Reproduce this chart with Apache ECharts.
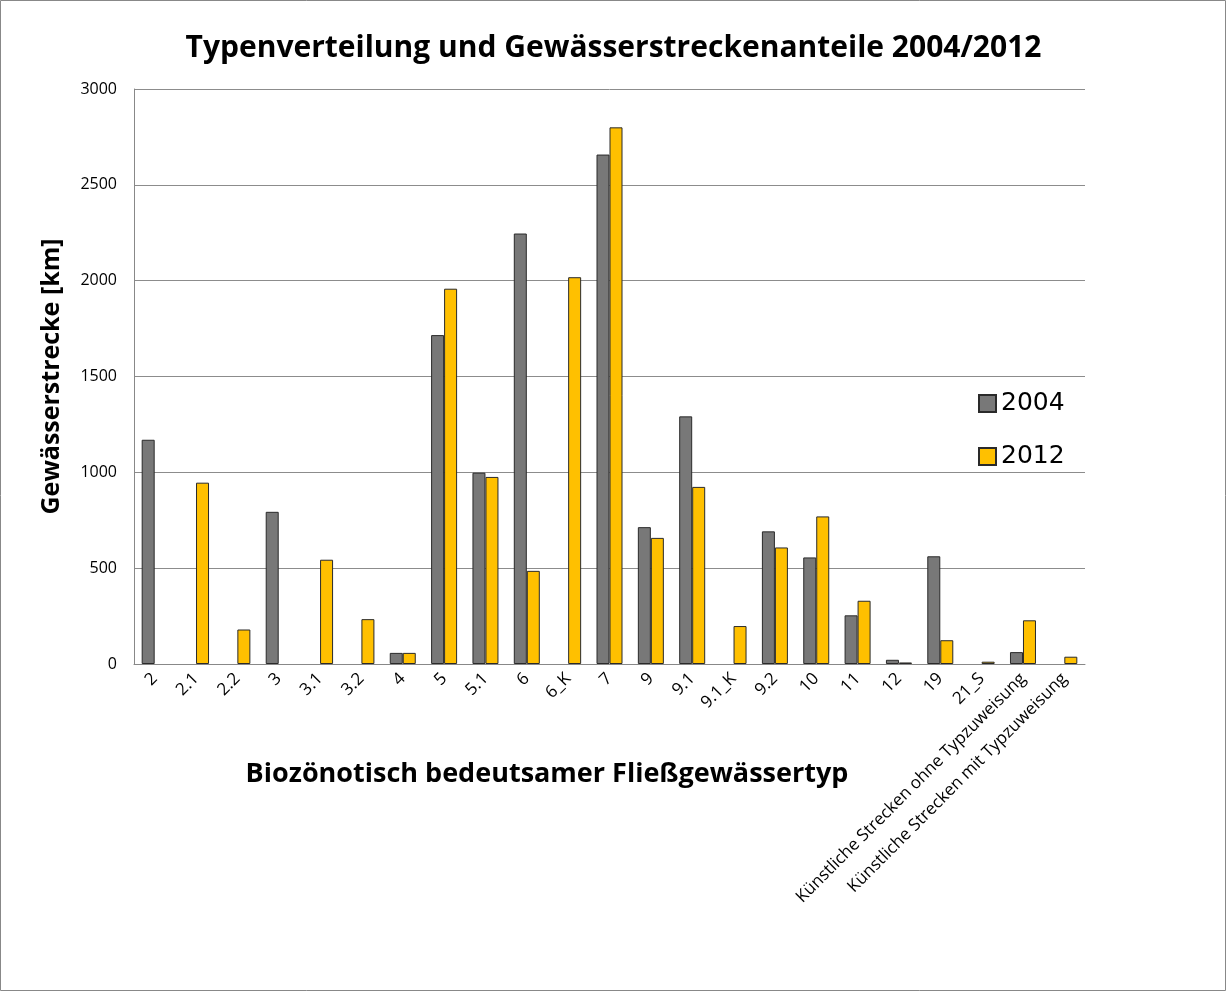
<!DOCTYPE html>
<html>
<head>
<meta charset="utf-8">
<script src="https://cdn.jsdelivr.net/npm/echarts@6/dist/echarts.min.js"></script>
<style>html,body{margin:0;padding:0;background:#fff}#c{width:1227px;height:992px}</style>
</head>
<body>
<div id="c"></div>
<script>
const categories = ['2','2.1','2.2','3','3.1','3.2','4','5','5.1','6','6_K','7','9','9.1','9.1_K','9.2','10','11','12','19','21_S','Künstliche Strecken ohne Typzuweisung','Künstliche Strecken mit Typzuweisung'];
const values2004 = [1170, null, null, 794, null, null, 58, 1716, 998, 2246, null, 2658, 714, 1292, null, 692, 556, 254, 22, 562, null, 62, null];
const values2012 = [null, 946, 180, null, 544, 234, 58, 1958, 976, 486, 2018, 2800, 658, 924, 198, 608, 770, 330, 8, 124, 12, 228, 38];
const yTicks = {min: 0, max: 3000, interval: 500};

const FONT = '"Open Sans", "Noto Sans", sans-serif';
const chart = echarts.init(document.getElementById('c'));
chart.setOption({
  animation: false,
  backgroundColor: '#fff',
  title: [
    {text: 'Typenverteilung und Gewässerstreckenanteile 2004/2012', left: 'center', top: 28,
     textStyle: {fontFamily: FONT, fontSize: 30, fontWeight: 'bold', color: '#000'}},
    {text: 'Biozönotisch bedeutsamer Fließgewässertyp', left: 542, top: 756, textAlign: 'center',
     textStyle: {fontFamily: FONT, fontSize: 27, fontWeight: 'bold', color: '#000'}}
  ],
  graphic: [{type: 'rect', shape: {x: 0.5, y: 0.5, width: 1225, height: 990}, style: {fill: 'none', stroke: '#888', lineWidth: 1}, silent: true}],
  legend: {
    orient: 'vertical', left: 978, top: 391, padding: 0, itemWidth: 17, itemHeight: 17, itemGap: 28,
    textStyle: {fontFamily: '"DejaVu Sans", sans-serif', fontSize: 25, color: '#000'},
    data: [{name: '2004', icon: 'rect'}, {name: '2012', icon: 'rect'}]
  },
  grid: {left: 134, right: 142, top: 89, bottom: 328, containLabel: false},
  xAxis: {
    type: 'category', data: categories,
    axisLine: {lineStyle: {color: '#888'}},
    axisTick: {show: false},
    axisLabel: {rotate: 45, interval: 0, fontFamily: FONT, fontSize: 17, color: '#000', margin: 12}
  },
  yAxis: {
    type: 'value', min: yTicks.min, max: yTicks.max, interval: yTicks.interval,
    name: 'Gewässerstrecke [km]', nameLocation: 'middle', nameGap: 70,
    nameTextStyle: {fontFamily: FONT, fontSize: 25, fontWeight: 'bold', color: '#000'},
    axisLine: {show: true, lineStyle: {color: '#888'}},
    axisTick: {show: false},
    axisLabel: {fontFamily: FONT, fontSize: 16, color: '#000', margin: 17, formatter: v => String(v)},
    splitLine: {lineStyle: {color: '#8c8c8c'}}
  },
  series: [
    {name: '2004', type: 'bar', data: values2004, barWidth: 13, barGap: '0%',
     itemStyle: {color: '#787878', borderColor: '#2a2a2a', borderWidth: 1}},
    {name: '2012', type: 'bar', data: values2012, barWidth: 13,
     itemStyle: {color: '#ffc000', borderColor: '#2a2a2a', borderWidth: 1}}
  ]
});
</script>
</body>
</html>
